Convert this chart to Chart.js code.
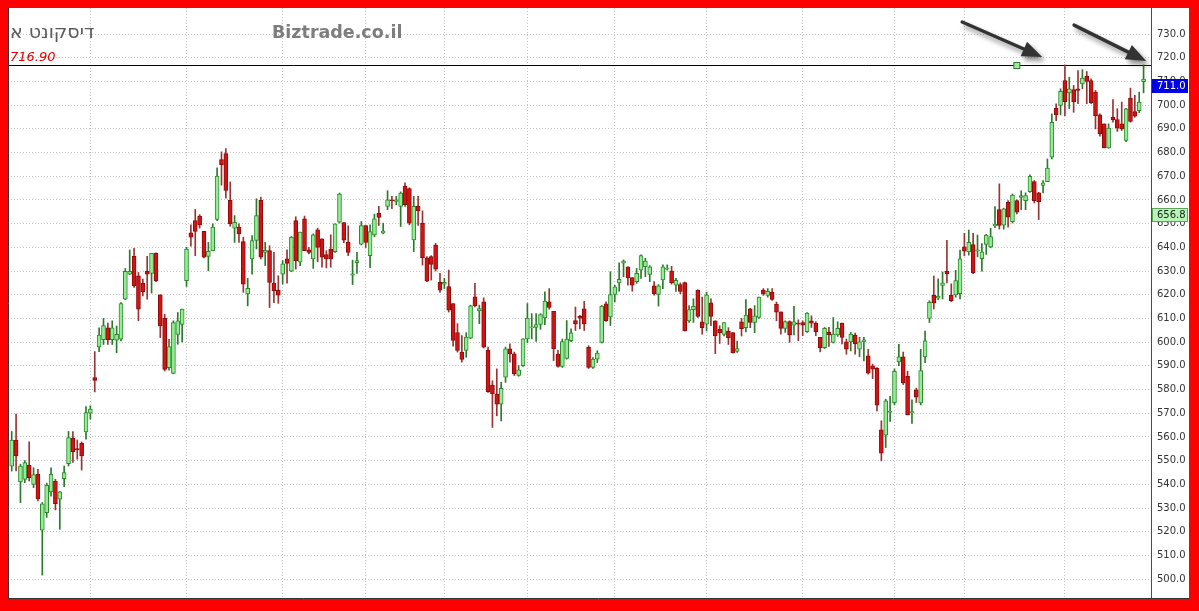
<!DOCTYPE html>
<html><head><meta charset="utf-8">
<script src="https://cdn.jsdelivr.net/npm/chart.js@4.4.1/dist/chart.umd.min.js"></script>
<style>
html,body{margin:0;padding:0;background:#ff0000;width:1199px;height:611px;overflow:hidden}
#wrap{position:absolute;left:8px;top:8px;width:1181px;height:591px;background:#fff}
</style></head><body><div id="wrap"><canvas id="c"></canvas></div>
<script>
// ---- data ----
const openP=[547.7,558.7,541.0,542.1,548.0,540.0,544.2,520.6,528.0,536.8,541.3,533.7,542.4,548.7,559.4,555.1,557.3,562.1,570.0,
585.0,598.0,601.0,606.0,601.0,
600.8,601.2,618.1,628.7,636.2,628.0,624.9,629.9,629.0,637.5,620.0,610.0,589.2,586.8,603.3,607.5,625.9,646.1,651.3,653.2,646.8,636.2,638.6,651.8,677.0,679.6,
659.8,648.1,648.5,642.4,620.3,635.1,642.9,659.8,637.9,638.6,624.9,622.0,628.7,635.1,629.9,651.3,633.7,652.0,638.9,635.1,647.4,643.6,636.9,639.3,638.2,
650.6,650.5,642.1,628.3,633.5,641.3,649.2,636.5,645.2,654.4,646.0,657.3,660.1,659.4,657.3,665.8,664.8,643.1,657.3,650.2,635.6,636.1,641.0,625.2,624.5,623.4,
616.3,604.0,595.8,596.5,601.7,619.1,613.2,617.0,596.5,581.9,578.1,573.8,585.2,597.2,595.1,585.9,590.1,601.4,606.0,606.2,607.5,610.2,617.0,613.0,595.0,
589.7,593.1,600.6,609.1,610.9,614.1,597.8,589.3,592.8,599.9,616.2,610.6,620.1,625.0,633.3,631.8,627.2,625.5,630.4,631.8,628.6,623.8,620.1,626.2,630.8,
630.0,624.0,624.3,625.1,609.0,613.7,621.9,608.6,607.6,616.6,609.0,605.4,603.3,604.7,604.0,596.1,608.6,606.1,614.0,608.3,610.4,621.9,619.7,621.1,616.1,
612.8,605.8,608.7,607.2,608.0,608.3,604.4,609.0,608.0,602.0,597.7,604.1,599.9,603.0,608.0,600.1,600.1,603.0,597.0,600.1,594.2,590.0,588.9,563.0,560.7,
570.3,574.5,591.6,593.8,585.6,570.1,579.9,574.3,593.8,610.0,619.9,618.5,623.9,629.9,619.9,619.9,620.4,640.2,638.1,641.2,638.4,635.2,641.2,640.2,649.0,
655.9,649.4,659.0,650.8,659.7,661.1,659.7,663.5,667.7,663.0,666.1,667.7,678.0,698.7,699.9,710.4,705.2,706.6,706.9,709.0,712.3,710.4,705.5,695.9,692.1,682.0,694.9,693.9,692.1,685.1,703.0,697.3,697.7,709.9];
const highP=[562.3,569.6,548.5,550.0,557.9,547.0,546.3,532.3,540.5,547.0,542.1,537.0,547.7,562.3,562.3,558.7,557.9,572.8,573.1,
596.0,606.0,610.0,608.0,609.0,
606.8,616.7,631.1,638.9,639.6,629.4,626.6,636.2,637.5,637.7,620.0,611.8,601.2,609.0,612.5,613.9,640.0,649.5,656.0,653.8,646.8,642.1,649.9,673.5,680.3,681.7,
667.6,653.4,649.9,644.3,626.9,645.0,660.5,661.2,642.1,640.7,637.9,628.0,634.4,638.9,644.6,652.9,646.4,653.2,640.0,645.7,648.1,643.6,638.6,645.3,649.9,
662.9,650.5,649.1,634.6,637.9,650.9,649.2,649.5,654.0,657.3,650.2,663.9,661.5,661.5,663.4,667.2,665.1,661.5,661.5,655.4,636.1,636.5,641.7,629.0,626.9,630.4,
616.3,607.8,602.8,604.0,615.6,624.8,615.6,618.7,597.9,583.7,588.7,583.0,597.9,599.3,595.8,590.1,601.4,616.3,612.0,612.0,612.0,621.2,622.6,613.0,596.5,
601.3,609.1,605.6,614.8,611.3,617.2,598.5,593.5,596.4,615.5,617.0,629.7,624.0,633.5,634.7,631.8,627.2,631.1,636.8,635.4,632.3,625.5,624.3,632.6,632.6,
632.0,626.9,625.0,625.4,615.4,618.3,622.1,619.0,621.1,618.3,609.0,606.9,608.3,606.1,604.0,600.4,610.0,618.0,614.3,615.4,619.0,622.6,622.6,622.6,616.9,
612.8,609.0,609.0,615.1,609.4,609.0,612.5,611.1,608.6,602.0,606.2,606.2,610.4,608.6,608.0,601.3,604.1,603.8,602.0,602.0,597.0,590.7,589.3,566.8,575.9,
577.1,588.7,599.1,595.8,587.7,575.7,580.6,597.0,604.7,617.5,627.9,626.7,629.6,643.0,624.6,630.3,638.8,645.9,647.3,645.9,645.2,641.6,645.5,648.0,657.2,
666.8,656.5,659.7,662.5,660.1,663.9,663.0,670.6,668.2,663.2,668.2,677.3,696.3,700.6,706.9,717.0,711.8,708.3,714.6,715.0,714.2,711.1,706.2,696.3,692.1,692.1,702.4,698.5,701.3,698.7,707.2,704.1,705.5,717.0];
const lowP=[545.6,545.6,532.3,540.7,541.4,538.6,533.0,501.7,526.0,535.0,529.2,521.0,539.0,547.7,549.2,550.6,546.0,559.0,567.5,
579.0,596.0,599.0,599.0,599.0,
595.5,600.5,617.9,628.5,623.1,609.0,619.5,618.1,620.7,625.5,601.9,587.8,588.2,586.6,599.1,600.1,623.5,640.5,636.5,648.1,635.5,630.1,638.6,651.3,666.2,660.7,
648.9,642.1,642.1,621.0,615.3,628.7,639.3,635.1,632.3,614.6,616.7,616.4,624.5,624.9,629.7,630.8,632.3,638.6,637.2,631.1,633.9,631.6,631.3,631.6,637.9,
650.2,642.0,636.5,624.3,629.0,641.0,639.9,631.4,644.5,649.2,645.7,655.9,656.3,658.0,648.8,657.3,649.5,638.2,649.2,632.5,625.5,626.2,630.0,621.0,622.6,612.7,
598.3,595.8,591.5,593.6,601.4,614.9,607.8,597.5,578.8,564.0,568.9,566.8,583.0,591.5,585.9,585.6,589.8,599.7,601.4,600.3,605.4,607.4,613.9,592.2,589.4,
589.3,592.8,600.2,604.9,605.6,604.9,588.9,588.9,591.4,599.6,608.7,607.0,617.0,621.5,627.6,624.0,621.5,624.8,626.9,627.6,625.5,619.8,615.2,622.6,630.4,
624.5,621.4,620.4,604.7,608.3,608.3,610.4,603.3,604.7,606.9,595.1,599.4,602.6,599.0,595.4,595.7,602.6,604.3,606.1,604.0,610.0,619.7,619.0,617.6,609.0,
603.4,604.1,599.9,603.0,600.6,602.7,604.1,606.2,602.7,595.9,597.3,598.2,599.6,602.4,599.2,594.9,596.3,594.9,593.9,592.1,586.5,584.6,571.0,549.9,555.5,
566.5,573.5,590.1,582.1,569.3,565.7,574.5,573.5,591.3,608.3,614.0,617.9,618.2,625.0,617.1,618.9,618.2,636.4,636.7,628.9,636.0,629.9,637.0,639.8,648.3,
647.7,647.7,648.5,650.3,654.1,655.9,655.9,663.2,658.7,651.7,663.0,667.7,677.3,693.5,695.9,695.6,698.5,697.0,700.6,706.9,700.6,700.6,690.0,686.9,682.0,681.8,692.8,688.9,689.3,684.6,692.8,694.9,696.8,705.2];
const closeP=[558.7,552.0,547.7,549.2,542.8,544.1,533.9,531.8,539.6,544.2,531.8,536.8,544.9,559.7,553.8,554.5,552.0,570.3,571.7,
583.8,603.0,607.0,601.0,606.0,
603.3,616.3,629.9,629.9,623.8,613.9,621.2,628.7,637.5,625.9,606.8,588.5,598.1,608.2,609.0,613.9,639.3,644.3,646.7,649.5,635.8,638.3,648.5,670.1,674.9,664.0,
649.9,650.6,645.7,624.5,622.7,642.9,653.4,635.8,638.7,625.2,621.7,619.8,633.0,633.2,644.3,634.4,646.4,638.6,637.9,645.3,640.0,635.8,635.1,635.1,649.9,
662.5,643.0,637.9,628.8,634.4,649.2,642.1,646.7,652.0,652.6,647.0,660.1,659.7,660.1,662.9,658.0,650.2,657.3,655.4,635.6,625.7,632.8,630.8,621.9,625.2,613.5,
600.7,596.5,592.7,602.1,615.3,615.3,614.2,597.9,579.1,578.1,573.8,580.5,597.2,595.1,586.6,588.3,601.4,610.2,606.5,607.4,611.6,617.3,614.6,597.2,589.8,
600.2,601.3,603.9,607.7,610.1,607.7,589.3,592.8,595.4,615.2,609.1,620.1,623.3,626.5,634.2,627.2,624.0,629.0,636.5,634.2,631.8,620.5,623.8,631.8,631.1,
625.0,626.1,621.4,604.7,613.7,615.1,610.9,606.1,620.0,610.9,602.6,604.0,608.3,601.9,595.4,597.3,605.7,611.4,608.3,611.1,619.0,620.4,621.4,618.0,612.6,
605.8,608.7,603.0,608.6,607.6,607.2,612.3,608.0,604.4,597.7,605.8,603.0,603.4,605.8,602.0,597.0,603.4,599.2,600.1,601.0,586.9,588.6,573.4,553.1,575.2,
570.8,587.7,593.8,582.8,569.3,570.7,576.8,588.0,600.5,616.8,616.5,619.4,625.0,628.9,617.5,626.0,635.2,638.4,642.1,629.3,638.9,638.1,645.2,644.5,649.7,
649.2,656.2,652.7,662.1,654.8,661.8,661.8,670.0,659.7,659.3,667.2,673.4,692.8,695.9,705.8,701.5,706.9,701.5,706.2,711.4,710.0,701.0,695.6,687.9,682.0,690.3,693.9,690.3,690.0,698.5,693.1,695.4,701.3,711.0];
const monthStartIdx=[18,40,62,81,99,118,138,159,181,202,218,241];
const yTickValues=[500,510,520,530,540,550,560,570,580,590,600,610,620,630,640,650,660,670,680,690,700,710,720,730];
const titleText='דיסקונט א';
const watermarkText='Biztrade.co.il';
const refLevel=716.90;
const refMarkerIdx=230;
const lastPrice=711.0;
const secondLevel=656.8;
const arrowDefs=[{from:[217.5,735.1],to:[235.8,720.3]},{from:[243.1,733.8],to:[259.6,718.6]}];

// ---- build datasets ----
const idx=openP.map((_,i)=>i);
const isUp=idx.map(i=>closeP[i]>=openP[i]);
const bodyData=idx.map(i=>({x:i,y:[Math.min(openP[i],closeP[i]),Math.max(openP[i],closeP[i])]}));
const wickData=idx.map(i=>({x:i,y:[lowP[i],highP[i]]}));

Chart.defaults.font.family='DejaVu Sans';

function drawArrow(ctx,x1,y1,x2,y2){
  const a=Math.atan2(y2-y1,x2-x1), hl=20, hw=8;
  const bx=x2-hl*Math.cos(a), by=y2-hl*Math.sin(a);
  ctx.save();
  ctx.shadowColor='rgba(0,0,0,0.45)';ctx.shadowBlur=5;ctx.shadowOffsetX=3;ctx.shadowOffsetY=4;
  ctx.strokeStyle='#333';ctx.lineWidth=3.5;ctx.lineCap='round';
  ctx.beginPath();ctx.moveTo(x1,y1);ctx.lineTo(bx,by);ctx.stroke();
  ctx.fillStyle='#333';ctx.beginPath();ctx.moveTo(x2,y2);
  ctx.lineTo(bx+hw*Math.sin(a),by-hw*Math.cos(a));
  ctx.lineTo(bx-hw*Math.sin(a),by+hw*Math.cos(a));
  ctx.closePath();ctx.fill();ctx.restore();
}

const overlay={
  id:'overlay',
  beforeDatasetsDraw(chart){
    const {ctx,chartArea:ca,scales:{y}}=chart;
    const py=Math.round(y.getPixelForValue(refLevel))+0.5;
    ctx.save();ctx.strokeStyle='#000';ctx.lineWidth=1;
    ctx.beginPath();ctx.moveTo(0,py);ctx.lineTo(ca.right,py);ctx.stroke();ctx.restore();
  },
  afterDraw(chart){
    const {ctx,chartArea:ca,scales:{x,y},width,height}=chart;
    ctx.save();
    ctx.strokeStyle='#333';ctx.lineWidth=1;
    ctx.beginPath();ctx.moveTo(0.5,0);ctx.lineTo(0.5,height);ctx.moveTo(0,height-0.5);ctx.lineTo(width,height-0.5);ctx.stroke();
    const mx=x.getPixelForValue(refMarkerIdx), my=Math.round(y.getPixelForValue(refLevel))+0.5;
    ctx.fillStyle='#9be89b';ctx.strokeStyle='#2d7a2d';
    ctx.fillRect(mx-3,my-3,6,6);ctx.strokeRect(mx-3,my-3,6,6);
    ctx.textBaseline='middle';ctx.textAlign='left';
    ctx.fillStyle='#5a5a5a';ctx.font='19px "DejaVu Sans"';
    ctx.fillText(titleText,2,25);
    ctx.fillStyle='#7d7d7d';ctx.font='bold 17.5px "DejaVu Sans"';
    ctx.fillText(watermarkText,264,25);
    ctx.fillStyle='#e00000';ctx.font='italic 13px "DejaVu Sans"';
    ctx.fillText(refLevel.toFixed(2),2,50);
    arrowDefs.forEach(a=>drawArrow(ctx,x.getPixelForValue(a.from[0]),y.getPixelForValue(a.from[1]),x.getPixelForValue(a.to[0]),y.getPixelForValue(a.to[1])));
    const bx=ca.right+1, bw=width-bx-1;
    let t=Math.round(y.getPixelForValue(lastPrice));
    ctx.fillStyle='#0000e6';ctx.fillRect(bx,t,bw,14);
    ctx.fillStyle='#fff';ctx.font='10px "DejaVu Sans"';ctx.fillText(lastPrice.toFixed(1),ca.right+6,t+7.5);
    t=Math.round(y.getPixelForValue(secondLevel));
    ctx.fillStyle='#b6f5b6';ctx.fillRect(bx,t,bw,14);
    ctx.strokeStyle='#58a858';ctx.strokeRect(bx+0.5,t+0.5,bw-1,13);
    ctx.fillStyle='#222';ctx.fillText(secondLevel.toFixed(1),ca.right+6,t+7.5);
    ctx.restore();
  }
};

new Chart(document.getElementById('c'),{
  type:'bar',
  data:{datasets:[
    {label:'body',data:bodyData,order:0,barThickness:4,borderWidth:1,borderSkipped:false,grouped:false,
     backgroundColor:idx.map(i=>isUp[i]?'#94ec94':'#d01414'),
     borderColor:idx.map(i=>isUp[i]?'#2a8a2a':'#8e0a0a')},
    {label:'wick',data:wickData,order:1,barThickness:1,borderWidth:0,grouped:false,
     backgroundColor:idx.map(i=>isUp[i]?'#2b7a2b':'#9a3434')}
  ]},
  options:{
    responsive:true,maintainAspectRatio:false,animation:false,devicePixelRatio:1,
    layout:{padding:0},
    plugins:{legend:{display:false},tooltip:{enabled:false},title:{display:false}},
    scales:{
      x:{type:'linear',min:-0.85,max:260.7,offset:false,
         grid:{offset:false,drawTicks:false,lineWidth:1,color:'#c4c4c4'},
         border:{display:false,dash:[1,2]},
         ticks:{display:false},
         afterBuildTicks:s=>{s.ticks=monthStartIdx.map(v=>({value:v}));},
         afterFit:s=>{s.height=0;s.paddingLeft=0;s.paddingRight=0;s.paddingTop=0;s.paddingBottom=0;}},
      y:{position:'right',min:491.6,max:741,
         grid:{drawTicks:false,color:'#c4c4c4',lineWidth:1},
         border:{display:true,color:'#ff0000',width:1,dash:[1,2]},
         ticks:{padding:6,color:'#333',font:{size:10,family:'DejaVu Sans'},callback:v=>Number(v).toFixed(1)},
         afterBuildTicks:s=>{s.ticks=yTickValues.map(v=>({value:v}));},
         afterFit:s=>{s.width=38;s.paddingTop=0;s.paddingBottom=0;}}
    }
  },
  plugins:[overlay]
});
</script></body></html>
